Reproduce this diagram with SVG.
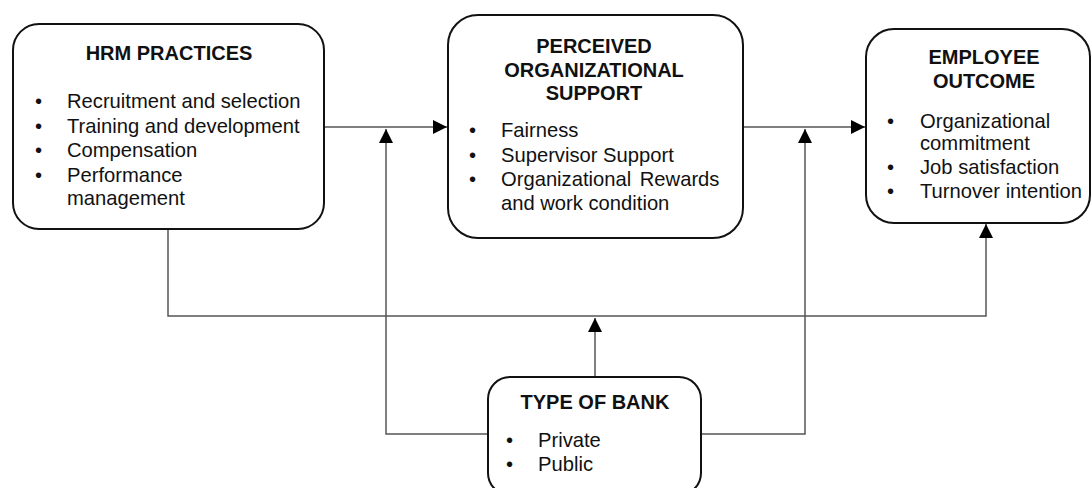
<svg xmlns="http://www.w3.org/2000/svg" width="1092" height="488" viewBox="0 0 1092 488">
<defs>
<style>
.box{fill:#fff;stroke:#111;stroke-width:2}
.ln{fill:none;stroke:#555;stroke-width:1.5}
.t{font-family:"Liberation Sans",Arial,sans-serif;font-size:20.2px;fill:#111}
.h{font-family:"Liberation Sans",Arial,sans-serif;font-size:20px;font-weight:bold;fill:#111;text-anchor:middle}
</style>
<marker id="ar" viewBox="0 0 14 14" refX="14" refY="7" markerWidth="14" markerHeight="14" markerUnits="userSpaceOnUse" orient="auto">
<path d="M0,0 L14,7 L0,14 Z" fill="#000"/>
</marker>
</defs>
<rect width="1092" height="488" fill="#fff"/>
<g id="connectors">
<line class="ln" x1="324" y1="127" x2="447" y2="127" marker-end="url(#ar)"/>
<line class="ln" x1="743" y1="127" x2="865" y2="127" marker-end="url(#ar)"/>
<polyline class="ln" points="488,434 386,434 386,129" marker-end="url(#ar)"/>
<polyline class="ln" points="701,434 805,434 805,129" marker-end="url(#ar)"/>
<polyline class="ln" points="168,229 168,316 986,316 986,224" marker-end="url(#ar)"/>
<line class="ln" x1="595" y1="377" x2="595" y2="318" marker-end="url(#ar)"/>
</g>
<g id="hrm">
<rect class="box" x="13" y="24" width="311" height="205" rx="26"/>
<text class="h" x="169" y="60">HRM PRACTICES</text>
<text class="t" x="35" y="108">•</text><text class="t" x="67" y="108">Recruitment and selection</text>
<text class="t" x="35" y="133">•</text><text class="t" x="67" y="133">Training and development</text>
<text class="t" x="35" y="157">•</text><text class="t" x="67" y="157">Compensation</text>
<text class="t" x="35" y="182">•</text><text class="t" x="67" y="182">Performance</text>
<text class="t" x="67" y="205">management</text>
</g>
<g id="pos">
<rect class="box" x="448" y="15" width="295" height="223" rx="30"/>
<text class="h" x="594" y="53">PERCEIVED</text>
<text class="h" x="594" y="77">ORGANIZATIONAL</text>
<text class="h" x="594" y="100">SUPPORT</text>
<text class="t" x="469" y="137">•</text><text class="t" x="501" y="137">Fairness</text>
<text class="t" x="469" y="162">•</text><text class="t" x="501" y="162">Supervisor Support</text>
<text class="t" x="469" y="186">•</text><text class="t" x="501" y="186" word-spacing="3">Organizational Rewards</text>
<text class="t" x="501" y="210">and work condition</text>
</g>
<g id="eo">
<rect class="box" x="866" y="29" width="224" height="194" rx="28"/>
<text class="h" x="984" y="64">EMPLOYEE</text>
<text class="h" x="984" y="88">OUTCOME</text>
<text class="t" x="887" y="128">•</text><text class="t" x="920" y="128">Organizational</text>
<text class="t" x="920" y="150">commitment</text>
<text class="t" x="887" y="174">•</text><text class="t" x="920" y="174">Job satisfaction</text>
<text class="t" x="887" y="198">•</text><text class="t" x="920" y="198">Turnover intention</text>
</g>
<g id="bank">
<rect class="box" x="488" y="377" width="213" height="118" rx="22"/>
<text class="h" x="595" y="409">TYPE OF BANK</text>
<text class="t" x="506" y="447">•</text><text class="t" x="538" y="447">Private</text>
<text class="t" x="506" y="471">•</text><text class="t" x="538" y="471">Public</text>
</g>
</svg>
